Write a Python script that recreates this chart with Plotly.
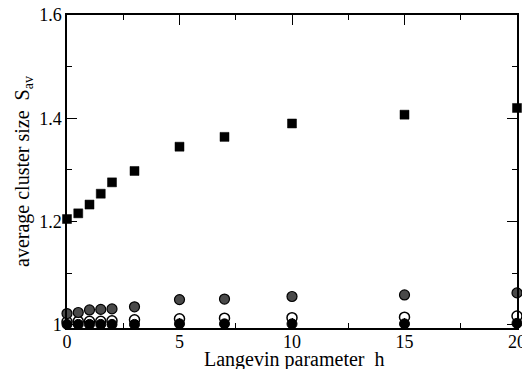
import plotly.graph_objects as go

h = [0, 0.5, 1, 1.5, 2, 3, 5, 7, 10, 15, 20]
s_square = [1.205, 1.216, 1.233, 1.254, 1.276, 1.298, 1.345, 1.364, 1.390, 1.407, 1.420]
s_gray = [1.022, 1.024, 1.029, 1.030, 1.031, 1.035, 1.049, 1.050, 1.055, 1.058, 1.062]
s_open = [1.006, 1.007, 1.007, 1.007, 1.008, 1.010, 1.012, 1.013, 1.014, 1.015, 1.017]
s_black = [1.001, 1.001, 1.001, 1.001, 1.001, 1.001, 1.002, 1.002, 1.002, 1.002, 1.003]

x_ticks = [0, 5, 10, 15, 20]
y_ticks = [1.0, 1.2, 1.4, 1.6]
y_tick_text = ["1", "1.2", "1.4", "1.6"]
x_title = "Langevin parameter  h"
y_title = "average cluster size  S<sub>av</sub>"

fig = go.Figure()
fig.add_trace(go.Scatter(x=h, y=s_open, mode="markers", cliponaxis=False,
                         marker=dict(symbol="circle", size=10, color="white",
                                     line=dict(color="black", width=1.5))))
fig.add_trace(go.Scatter(x=h, y=s_black, mode="markers", cliponaxis=False,
                         marker=dict(symbol="circle", size=10, color="black",
                                     line=dict(color="black", width=1))))
fig.add_trace(go.Scatter(x=h, y=s_gray, mode="markers", cliponaxis=False,
                         marker=dict(symbol="circle", size=10, color="#4a4a4a",
                                     line=dict(color="black", width=1.2))))
fig.add_trace(go.Scatter(x=h, y=s_square, mode="markers", cliponaxis=False,
                         marker=dict(symbol="square", size=9, color="black",
                                     line=dict(color="black", width=0.5))))

SERIF = "Liberation Serif, Times New Roman, serif"
axis_common = dict(showline=True, linecolor="black", linewidth=1.5, mirror="ticks",
                   ticks="inside", ticklen=10, tickwidth=1.2, tickcolor="black",
                   showgrid=False, zeroline=False, ticklabeloverflow="allow",
                   automargin=False,
                   tickfont=dict(family=SERIF, size=18, color="black"))
fig.update_layout(
    width=522, height=369,
    margin=dict(l=67, r=5, t=15, b=41),
    paper_bgcolor="white", plot_bgcolor="white",
    showlegend=False,
    font=dict(family=SERIF, color="black"),
    xaxis=dict(range=[0, 20], tickvals=x_ticks, ticklabelstandoff=-3,
               minor=dict(dtick=2.5, ticks="inside", ticklen=5, tickwidth=1, tickcolor="black"),
               **axis_common),
    yaxis=dict(range=[0.994, 1.6], tickvals=y_ticks, ticktext=y_tick_text,
               minor=dict(dtick=0.1, ticks="inside", ticklen=5, tickwidth=1, tickcolor="black"),
               title=dict(text=y_title, font=dict(family=SERIF, size=20, color="black"), standoff=4),
               **axis_common),
    annotations=[dict(text=x_title, xref="paper", yref="paper", x=0.505, y=0,
                      xanchor="center", yanchor="top", yshift=-18, showarrow=False,
                      font=dict(family=SERIF, size=20, color="black"))],
)
fig.write_html("out.html")
